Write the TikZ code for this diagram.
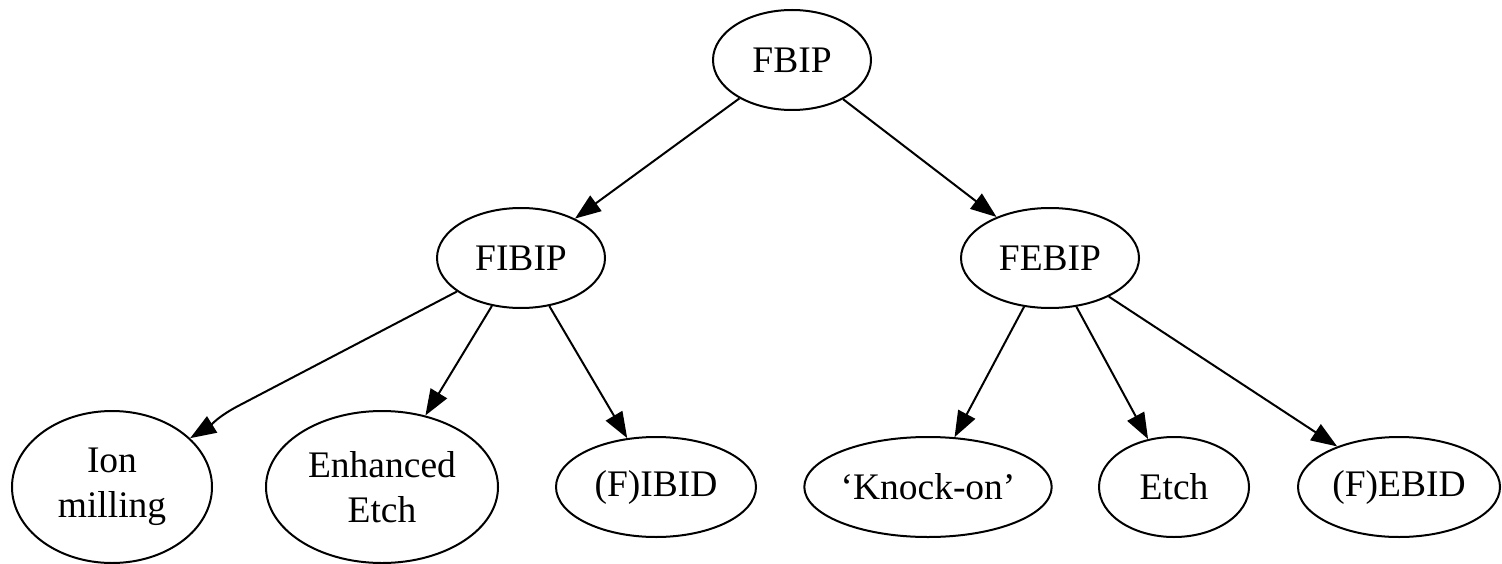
\documentclass[tikz,border=0pt]{standalone}
\usepackage{fontspec}
\setmainfont{Liberation Serif}
\usetikzlibrary{arrows.meta,positioning,shapes.geometric}

\begin{document}
\begin{tikzpicture}[x=0.5pt,y=0.5pt,on grid,
  >={Triangle[length=13pt,width=9.5pt]},
  every edge/.style={draw,line width=1pt},
  every node/.style={font=\fontsize{18.75}{22.5}\selectfont},
  field/.style={ellipse,draw,line width=1pt,inner sep=0pt,align=center,minimum height=50pt}]
\useasboundingbox (0,0) rectangle (1502,563);
\node[field,minimum width=79pt] (fbip) at (792,503) {FBIP};
\node[field,minimum width=84pt] (fibip) [below left=99pt and 135.5pt of fbip] {FIBIP};
\node[field,minimum width=89pt] (febip) [below right=99pt and 129pt of fbip] {FEBIP};
\node[field,minimum width=100pt,minimum height=76pt] (ion) [below left=114.5pt and 204.5pt of fibip] {Ion\\milling};
\node[field,minimum width=116pt,minimum height=76pt] (enh) [below left=114.5pt and 69.5pt of fibip] {Enhanced\\Etch};
\node[field,minimum width=100pt] (fibid) [below right=114.5pt and 67.5pt of fibip] {(F)IBID};
\node[field,minimum width=122pt] (knock) [below left=114.5pt and 61pt of febip] {`Knock-on'};
\node[field,minimum width=75pt] (etch) [below right=114.5pt and 62pt of febip] {Etch};
\node[field,minimum width=101pt] (febid) [below right=114.5pt and 174.5pt of febip] {(F)EBID};
\coordinate[above right=41pt and 64pt of ion] (kink);
\path[->] (fbip) edge (fibip)
   edge (febip)
   (fibip) edge (enh)
   edge (fibid)
   (febip) edge (knock)
   edge (etch)
   edge (febid);
\draw[->,line width=1pt] (fibip) -- (kink) to[out=207,in=32] (ion);
\end{tikzpicture}
\end{document}
